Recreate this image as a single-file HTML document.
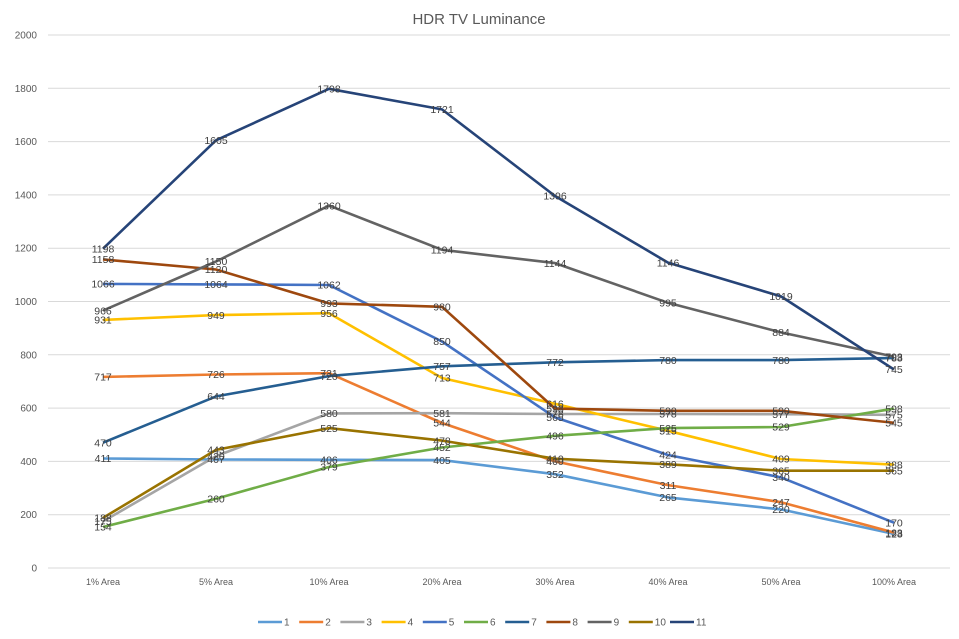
<!DOCTYPE html>
<html><head><meta charset="utf-8"><style>
body{margin:0;background:#fff;}
svg{display:block;font-family:"Liberation Sans",Arial,sans-serif;}
</style></head><body>
<svg id="c" width="959" height="639" xmlns="http://www.w3.org/2000/svg"></svg>
<script>
const s=document.getElementById('c');let h='';
const y0=568,k=533/2000;const Y=v=>y0-v*k;
const xs=[103,216,329,442,555,668,781,894];
h+='<text x="479" y="24" font-size="15" fill="#595959" text-anchor="middle">HDR TV Luminance</text>';
for(let v=0;v<=2000;v+=200){const y=Y(v);h+=`<line x1="48" x2="950" y1="${y}" y2="${y}" stroke="#d9d9d9" stroke-width="1"/>`;
h+=`<text x="37" y="${y+3.5}" font-size="10" fill="#595959" text-anchor="end">${v}</text>`;}
const cats=['1% Area','5% Area','10% Area','20% Area','30% Area','40% Area','50% Area','100% Area'];
cats.forEach((c,i)=>h+=`<text x="${xs[i]}" y="585" font-size="9" fill="#595959" text-anchor="middle">${c}</text>`);
const S=[
['#5B9BD5',[411,407,406,405,352,265,220,128]],
['#ED7D31',[717,726,731,544,400,311,247,133]],
['#A5A5A5',[175,420,580,581,578,578,577,575]],
['#FFC000',[931,949,956,713,616,515,409,388]],
['#4472C4',[1066,1064,1062,850,565,424,340,170]],
['#70AD47',[154,260,379,452,496,525,529,598]],
['#255E91',[470,644,720,757,772,780,780,788]],
['#9E480E',[1158,1120,993,980,598,590,590,545]],
['#636363',[966,1150,1360,1194,1144,995,884,793]],
['#997300',[188,443,525,478,410,389,365,365]],
['#264478',[1198,1605,1798,1721,1396,1146,1019,745]]];
let lab='';
S.forEach(([c,d])=>{h+=`<polyline fill="none" stroke="${c}" stroke-width="2.6" stroke-linejoin="round" points="${d.map((v,i)=>xs[i]+','+Y(v).toFixed(1)).join(' ')}"/>`;
d.forEach((v,i)=>lab+=`<text x="${xs[i]}" y="${(Y(v)+3.7).toFixed(1)}" font-size="10.5" fill="#404040" text-anchor="middle">${v}</text>`);});
h+=lab;
S.forEach(([c],i)=>{const x=258+i*41.2;h+=`<line x1="${x}" x2="${x+24}" y1="622" y2="622" stroke="${c}" stroke-width="2.6"/><text x="${x+26}" y="625.5" font-size="10" fill="#595959">${i+1}</text>`;});
s.innerHTML=h;
</script>
</body></html>
